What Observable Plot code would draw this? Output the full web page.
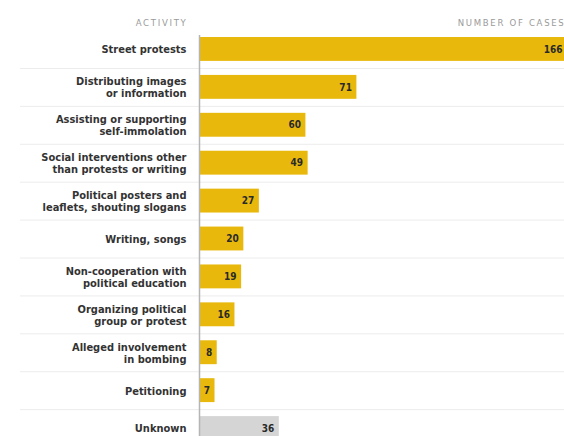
<!DOCTYPE html>
<html>
<head>
<meta charset="utf-8">
<script src="https://cdn.jsdelivr.net/npm/d3@7"></script>
<script src="https://cdn.jsdelivr.net/npm/@observablehq/plot@0.6"></script>
<style>
  html, body { margin: 0; padding: 0; background: #fff; overflow: hidden; }
  #chart { width: 564px; height: 436px; overflow: hidden; }
  #chart svg { overflow: hidden; }
</style>
</head>
<body>
<div id="chart"></div>
<script>
const activities = [
  "Street protests",
  "Distributing images\nor information",
  "Assisting or supporting\nself-immolation",
  "Social interventions other\nthan protests or writing",
  "Political posters and\nleaflets, shouting slogans",
  "Writing, songs",
  "Non-cooperation with\npolitical education",
  "Organizing political\ngroup or protest",
  "Alleged involvement\nin bombing",
  "Petitioning",
  "Unknown"
];
// bar lengths as drawn in the picture
const cases = [166, 71, 48, 49, 27, 20, 19, 16, 8, 7, 36];
// numbers printed on the bars
const caseLabels = ["166", "71", "60", "49", "27", "20", "19", "16", "8", "7", "36"];
const headers = ["ACTIVITY", "NUMBER OF CASES"];

const data = activities.map((a, i) => ({activity: a, cases: cases[i], label: caseLabels[i]}));
const gold = "#e8b90c";
const grey = "#d5d5d5";
const font = "'DejaVu Sans Condensed', 'DejaVu Sans', sans-serif";

const chart = Plot.plot({
  width: 564,
  height: 436,
  marginLeft: 199,
  marginRight: 0,
  marginTop: 35,
  marginBottom: 0,
  style: {fontFamily: font, background: "#fff"},
  x: {domain: [0, 166], range: [199, 567], axis: null},
  y: {domain: activities, range: [30, 447], paddingInner: 0.37, paddingOuter: 0.185, round: false, axis: null},
  marks: [
    // row separators
    Plot.ruleY(activities.slice(0, -1), {y: d => d, dy: 19, stroke: "#ececec", strokeWidth: 1, insetLeft: -179}),
    Plot.barX(data, {x: "cases", y: "activity", fill: d => d.activity === "Unknown" ? grey : gold}),
    Plot.ruleX([0], {stroke: "#b5b5b5", strokeWidth: 1.5}),
    Plot.text(data, {x: "cases", y: "activity", text: "label", textAnchor: "end", dx: -5, fontSize: 10, fontWeight: "bold", fill: "#2a2a2a"}),
    Plot.text(data, {y: "activity", text: "activity", frameAnchor: "left", textAnchor: "end", dx: -13, fontSize: 11, fontWeight: "bold", fill: "#333", lineHeight: 1.12}),
    Plot.text([headers[0]], {frameAnchor: "top-left", textAnchor: "end", dx: -12, dy: -16, fontSize: 9.5, fill: "#9a9a9a"}),
    Plot.text([headers[1]], {x: () => d3.max(cases), frameAnchor: "top", textAnchor: "end", dx: -2, dy: -16, fontSize: 9.5, fill: "#9a9a9a"})
  ]
});
d3.select(chart).selectAll("text")
  .filter(function() { return headers.includes(this.textContent); })
  .style("letter-spacing", "1.7px");
document.getElementById("chart").appendChild(chart);
</script>
</body>
</html>
